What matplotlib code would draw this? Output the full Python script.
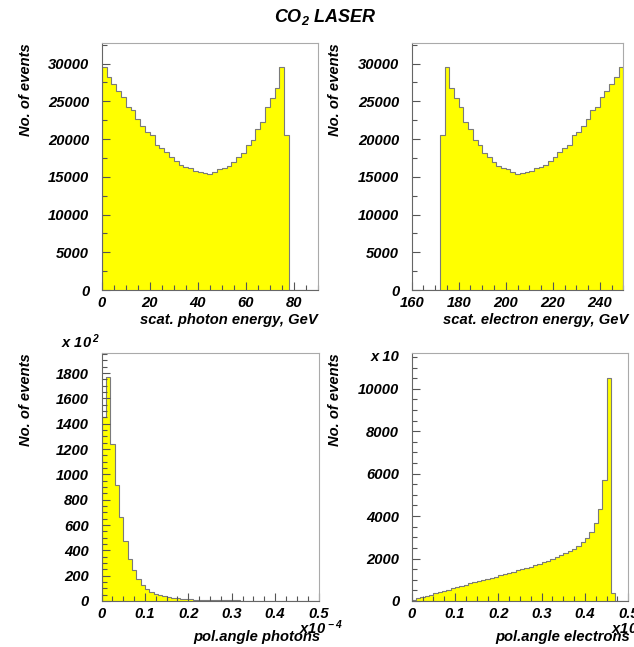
import numpy as np
import matplotlib
matplotlib.use("Agg")
import matplotlib.pyplot as plt

plt.rcParams['font.family'] = ['Liberation Sans', 'DejaVu Sans']
plt.rcParams['font.weight'] = 'bold'
plt.rcParams['font.style'] = 'italic'
plt.rcParams['mathtext.fontset'] = 'custom'
plt.rcParams['mathtext.rm'] = 'Liberation Sans:bold:italic'
plt.rcParams['mathtext.it'] = 'Liberation Sans:bold:italic'
plt.rcParams['mathtext.bf'] = 'Liberation Sans:bold:italic'

W, H = 634, 647

# scattered photon energy, 2 GeV bins from 0 to 90
photon_edges = np.arange(0, 92, 2)
photon_counts = [29500, 28200, 27300, 26400, 25600, 24300, 23800, 22700, 21700, 20900,
                 20500, 19200, 18800, 18300, 17600, 17100, 16500, 16300, 16200, 15800,
                 15700, 15500, 15400, 15600, 16000, 16200, 16400, 16900, 17600, 18200,
                 19200, 19900, 21400, 22300, 24200, 25500, 26800, 29500, 20600,
                 0, 0, 0, 0, 0, 0]

# scattered electron energy, 2 GeV bins from 160 to 250
electron_edges = np.arange(160, 252, 2)
electron_counts = [0, 0, 0, 0, 0, 0,
                   20600, 29500, 26800, 25500, 24200, 22300, 21400, 19900, 19200, 18200,
                   17600, 16900, 16400, 16200, 16000, 15600, 15400, 15500, 15700, 15800,
                   16200, 16300, 16500, 17100, 17600, 18300, 18800, 19200, 20500, 20900,
                   21700, 22700, 23800, 24300, 25600, 26400, 27300, 28200, 29500]

# polar angle of photons (x1e-4), counts in units of 10^2
angle_edges = np.linspace(0, 0.5, 51)
pol_photon = [1450, 1765, 1240, 915, 660, 470, 332, 245, 175, 128,
              95, 72, 56, 45, 37, 30, 25, 21, 18, 15,
              13, 11, 10, 9, 8, 7, 6, 6, 5, 5,
              4, 4, 3, 3, 2, 2, 2, 1, 1, 1,
              0, 0, 0, 0, 0, 0, 0, 0, 0, 0]

# polar angle of electrons (x1e-4), counts in units of 10
pol_electron = [60, 120, 180, 240, 300, 360, 420, 480, 540, 600,
                660, 715, 770, 825, 880, 935, 990, 1040, 1100, 1150,
                1210, 1265, 1320, 1380, 1440, 1500, 1560, 1625, 1690, 1760,
                1830, 1900, 1980, 2060, 2150, 2250, 2350, 2460, 2570, 2770,
                2990, 3270, 3660, 4320, 5710, 10500, 360, 0, 0, 0]

fig = plt.figure(figsize=(W / 100, H / 100), dpi=100)


def box(l, t, r, b):
    return [l / W, 1 - b / H, (r - l) / W, (b - t) / H]


def hist(ax, edges, vals):
    ax.stairs(vals, edges, fill=True, color='#ffff00', lw=0)
    ax.stairs(vals, edges, color='#7a7a7a', lw=0.8)


def style(ax, xlim, ylim, xmaj, xmin, ymaj, ymin):
    ax.set_xlim(*xlim)
    ax.set_ylim(*ylim)
    ax.set_xticks(np.arange(xlim[0], xlim[1] + 1e-9, xmaj))
    ax.set_xticks(np.arange(xlim[0], xlim[1] + 1e-9, xmin), minor=True)
    ax.set_yticks(np.arange(0, ylim[1], ymaj))
    ax.set_yticks(np.arange(0, ylim[1], ymin), minor=True)
    ax.tick_params(which='both', direction='in', top=False, right=False,
                   color='#555555', labelsize=10.6, width=0.8)
    ax.tick_params(which='major', length=6)
    ax.tick_params(which='minor', length=3.5)
    ax.tick_params(axis='y', pad=9)
    ax.tick_params(axis='x', pad=4.5)
    for s in ['left', 'bottom']:
        ax.spines[s].set_color('#666666')
    for s in ['top', 'right']:
        ax.spines[s].set_color('#aaaaaa')
    for s in ax.spines.values():
        s.set_linewidth(0.8)


ax1 = fig.add_axes(box(101.7, 43, 317.7, 290))
hist(ax1, photon_edges, photon_counts)
style(ax1, (0, 90), (0, 32730), 20, 5, 5000, 2500)

ax2 = fig.add_axes(box(411.7, 43, 623.3, 290))
hist(ax2, electron_edges, electron_counts)
style(ax2, (160, 250), (0, 32730), 20, 5, 5000, 2500)

ax3 = fig.add_axes(box(101.5, 353, 318.5, 601))
hist(ax3, angle_edges, pol_photon)
style(ax3, (0, 0.5), (0, 1958), 0.1, 0.025, 200, 50)
ax3.set_xticklabels(['0', '0.1', '0.2', '0.3', '0.4', '0.5'])

ax4 = fig.add_axes(box(411.7, 353, 628.3, 601))
hist(ax4, angle_edges, pol_electron)
style(ax4, (0, 0.5), (0, 11684), 0.1, 0.025, 2000, 500)
ax4.set_xticklabels(['0', '0.1', '0.2', '0.3', '0.4', '0.5'])


def px(x, y):
    return x / W, 1 - y / H


fs = 10.6
fig.text(*px(325, 17), r'CO$_2$ LASER', ha='center', va='center', fontsize=13)

for x, y in [(26, 43), (335, 43), (26, 353), (335, 353)]:
    fig.text(*px(x, y), 'No. of events', rotation=90, ha='center', va='top', fontsize=fs)

fig.text(*px(317.7, 320), 'scat. photon energy, GeV', ha='right', va='center', fontsize=fs)
fig.text(*px(628, 320), 'scat. electron energy, GeV', ha='right', va='center', fontsize=fs)
fig.text(*px(320, 637), 'pol.angle photons', ha='right', va='center', fontsize=fs)
fig.text(*px(630, 637), 'pol.angle electrons', ha='right', va='center', fontsize=fs)

fig.text(*px(299, 628), r'x10$^{\,-4}$', ha='left', va='center', fontsize=fs)
fig.text(*px(611, 628), r'x10$^{\,-4}$', ha='left', va='center', fontsize=fs)
fig.text(*px(100, 342), r'x 10$^{\,2}$', ha='right', va='center', fontsize=fs)
fig.text(*px(400, 357), 'x 10', ha='right', va='center', fontsize=fs)

fig.savefig('out.png', dpi=100)
